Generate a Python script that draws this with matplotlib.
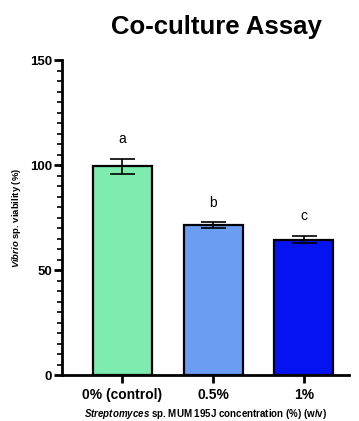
import numpy as np
import matplotlib
matplotlib.use('Agg')
import matplotlib.pyplot as plt
from matplotlib.ticker import MultipleLocator

plt.rcParams['font.family'] = ['Liberation Sans', 'DejaVu Sans']
plt.rcParams['mathtext.fontset'] = 'custom'
plt.rcParams['mathtext.bfit'] = 'Liberation Sans:italic:bold'

# Datos
categories = ['0% (control)', '0.5%', '1%']
viability = [99.5, 71.5, 64.5]
errors = [3.5, 1.2, 1.8]
letters = ['a', 'b', 'c']
colors = ['#7EECAF', '#6B9DF2', '#0512F2']

fig = plt.figure(figsize=(3.59, 4.21), dpi=100)
ax = fig.add_axes([0.1727, 0.109, 0.80, 0.748])

x = np.arange(len(categories))
ax.bar(x, viability, width=0.65, color=colors, edgecolor='black', linewidth=1.6, zorder=2)
ax.errorbar(x, viability, yerr=errors, fmt='none', ecolor='black',
            elinewidth=1.2, capsize=9, capthick=1.2, zorder=3)

for xi, v, e, lab in zip(x, viability, errors, letters):
    ax.text(xi, v + e + 6, lab, ha='center', va='bottom', fontsize=10)

ax.set_xlim(-0.665, 2.5)
ax.set_ylim(0, 150)
ax.yaxis.set_major_locator(MultipleLocator(50))
ax.yaxis.set_minor_locator(MultipleLocator(5))
ax.set_xticks(x)
ax.set_xticklabels(categories, fontsize=10, fontweight='bold')
for t in ax.get_yticklabels():
    t.set_fontweight('bold')
    t.set_fontsize(9.5)

for s in ['top', 'right']:
    ax.spines[s].set_visible(False)
for s in ['left', 'bottom']:
    ax.spines[s].set_linewidth(2)
ax.tick_params(axis='y', which='major', length=6, width=2, pad=1)
ax.tick_params(axis='y', which='minor', length=3.5, width=1.2)
ax.tick_params(axis='x', which='major', length=6, width=2, pad=3)

ax.set_ylabel(r'$\mathbfit{Vibrio}$ sp. viability (%)', fontsize=6.8, fontweight='bold', labelpad=5)
ax.set_xlabel(r'$\mathbfit{Streptomyces}$ sp. MUM 195J concentration (%) (w/v)',
              fontsize=7, fontweight='bold', labelpad=4)

fig.text(0.602, 0.935, 'Co-culture Assay', ha='center', va='center',
         fontsize=18.5, fontweight='bold')

fig.savefig('out.png', dpi=100)
